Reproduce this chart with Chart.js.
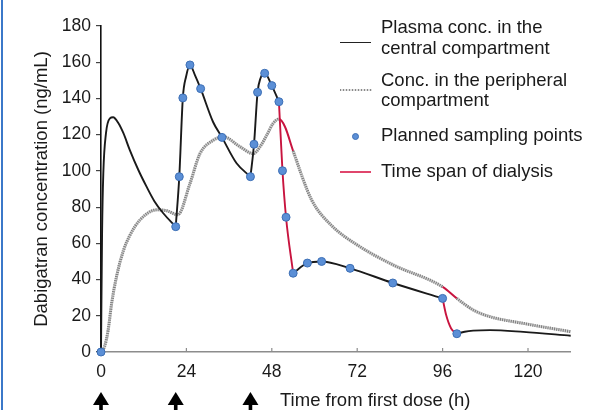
<!DOCTYPE html>
<html><head><meta charset="utf-8">
<script src="https://cdn.jsdelivr.net/npm/chart.js@4.4.1/dist/chart.umd.min.js"></script>
<style>
html,body{margin:0;padding:0;background:#fff;overflow:hidden}
#wrap{position:relative;width:589px;height:410px;font-family:"Liberation Sans",Arial,Helvetica,sans-serif;color:#1a1a1a}
#c{position:absolute;left:0;top:0}
.frame{position:absolute;left:1px;top:0;width:2px;height:410px;background:#3b78c9}
.lg{position:absolute;left:381px;font-size:18.5px;line-height:20.5px;white-space:nowrap}
.sw{position:absolute}
#xt{position:absolute;left:280px;top:390px;font-size:18.5px;line-height:20.5px;white-space:nowrap}
</style></head>
<body>
<div id="wrap">
<canvas id="c" width="589" height="410"></canvas>
<div class="frame"></div>
<div class="sw" style="left:340px;top:41.5px;width:31px;height:1.6px;background:#222"></div>
<div class="lg" style="top:17px">Plasma conc. in the<br>central compartment</div>
<div class="sw" style="left:340px;top:89px;width:32px;height:2px;background:repeating-linear-gradient(90deg,#8a8a8a 0 1.5px,#e0e0e0 1.5px 3px)"></div>
<div class="lg" style="top:69.5px">Conc. in the peripheral<br>compartment</div>
<div class="sw" style="left:352.2px;top:132.8px;width:5px;height:5px;border-radius:50%;background:#5b8fd6;border:1px solid #3d6fb5"></div>
<div class="lg" style="top:125px">Planned sampling points</div>
<div class="sw" style="left:340px;top:171px;width:31px;height:2px;background:#e0466c"></div>
<div class="lg" style="top:160.5px">Time span of dialysis</div>
<div id="xt">Time from first dose (h)</div>
</div>
<script>
// ---- data ----
const doseTimes = [0, 21, 42];
const dialysisStart = [50, 96];
const dialysisEnd = [54, 100];
const xTickValues = [0, 24, 48, 72, 96, 120];
const yTickValues = [0, 20, 40, 60, 80, 100, 120, 140, 160, 180];

const centralTime = [0,0.3,0.65,1.4,2.5,3.4,4.9,6.3,8.1,10.5,12.8,15,17.5,21,
  22,23,23.9,25,26.4,28,31.5,34,38.1,42,
  43,44,44.8,46,48,50,
  51,52,54,
  58,62,70,82,96,
  97,98.4,100,
  102.2,104.6,109.3,118.7,132];
const centralConc = [0,65.6,98.7,120.8,129,129.6,126.3,120.8,111.5,100.5,91.3,83.3,76.6,69.2,
  96.8,140.3,152,158.5,152.9,145.4,127,118.5,104.2,96.8,
  114.7,143.4,151,153.9,147.1,138.2,
  100.1,74.4,43.5,
  49.1,50,46.2,38.1,29.6,
  20.4,13,10.1,
  11.2,11.8,12.1,11.1,9.0];
const centralKinks = [21, 42, 50, 54, 96, 100];

const peripheralTime = [0,1,2,3,4.4,6.3,8,11,15.7,18.5,21.6,25,27.8,31.6,34.4,39,42.8,44.7,46.6,48.4,
  50,51.7,54,59.2,64.7,72.8,82.2,96,100,104.6,109.3,118.7,132];
const peripheralConc = [0,3,12,27,42,56,64,73,78.5,78,75.8,93,109.5,117,118.9,113.4,109.5,113.4,119.8,126.3,
  128.6,124.4,111,83.9,70,58.1,48,36,29.6,23.2,19.5,15.8,11.2];

const sampleTime = [0,21,22,23,25,28,34,42,43,44,46,48,50,51,52,54,58,62,70,82,96,100];
const sampleConc = [0,69.2,96.8,140.3,158.5,145.4,118.5,96.8,114.7,143.4,153.9,147.1,138.2,100.1,74.4,43.5,49.1,50,46.2,38.1,29.6,10.1];

// ---- build ----
const RED = '#c8143f';
const toPts = (ts, cs) => ts.map((t, i) => ({x: t, y: cs[i]}));
function inDialysis(a, b) {
  return dialysisStart.some((s, i) => a >= s - 1e-6 && b <= dialysisEnd[i] + 1e-6);
}
function splitAt(ts, cs, cuts) {
  const segs = []; let cur = [];
  ts.forEach((t, i) => {
    cur.push({x: t, y: cs[i]});
    if (cuts.includes(t)) { segs.push(cur); cur = [{x: t, y: cs[i]}]; }
  });
  if (cur.length > 1) segs.push(cur);
  return segs;
}
const centralSegs = splitAt(centralTime, centralConc, centralKinks).map(seg => ({
  data: seg,
  borderColor: inDialysis(seg[0].x, seg[seg.length - 1].x) ? RED : '#1a1a1a',
  borderWidth: 1.9,
  pointRadius: 0,
  cubicInterpolationMode: 'monotone',
  clip: false
}));
const periphPts = toPts(peripheralTime, peripheralConc);
const segRed = ctx => inDialysis(ctx.p0.parsed.x, ctx.p1.parsed.x);

const datasets = [
  { data: toPts(sampleTime, sampleConc), showLine: false, pointRadius: 4,
    pointBackgroundColor: '#5b8fd6', pointBorderColor: '#3d6fb5', pointBorderWidth: 1, clip: false },
  ...centralSegs,
  { data: periphPts, borderColor: '#7c7c7c', borderWidth: 3, borderDash: [1, 1.2], pointRadius: 0,
    cubicInterpolationMode: 'monotone', clip: false,
    segment: { borderColor: c => segRed(c) ? 'rgba(0,0,0,0)' : undefined } },
  { data: periphPts, borderColor: '#d2d2d2', borderWidth: 3, pointRadius: 0,
    cubicInterpolationMode: 'monotone', clip: false,
    segment: { borderColor: c => segRed(c) ? RED : undefined, borderWidth: c => segRed(c) ? 2 : undefined } }
];

const overlay = {
  id: 'overlay',
  afterDraw(chart) {
    const {ctx, scales: {x, y}} = chart;
    ctx.save();
    ctx.strokeStyle = '#8c8c8c'; ctx.lineWidth = 1.2;
    x.ticks.forEach(t => {
      if (t.value === 0) return;
      const px = x.getPixelForValue(t.value);
      ctx.beginPath(); ctx.moveTo(px, y.bottom); ctx.lineTo(px, y.bottom - 4); ctx.stroke();
    });
    ctx.fillStyle = '#000';
    doseTimes.forEach(t => {
      const px = x.getPixelForValue(t);
      ctx.beginPath(); ctx.moveTo(px, 392); ctx.lineTo(px + 8, 405); ctx.lineTo(px - 8, 405); ctx.closePath(); ctx.fill();
      ctx.fillRect(px - 1.8, 403, 3.6, 7);
    });
    ctx.restore();
  }
};

Chart.defaults.font.family = '"Liberation Sans", Arial, Helvetica, sans-serif';
Chart.defaults.color = '#1a1a1a';

new Chart(document.getElementById('c'), {
  type: 'line',
  data: { datasets },
  options: {
    responsive: false, animation: false, events: [],
    layout: { padding: { left: 0, right: 18.3, top: 26, bottom: 0 } },
    plugins: { legend: { display: false }, tooltip: { enabled: false } },
    scales: {
      x: {
        type: 'linear', min: 0, max: 132,
        afterBuildTicks: s => { s.ticks = xTickValues.map(v => ({value: v})); },
        afterFit: s => { s.height = 58; },
        grid: { display: true, drawOnChartArea: false, drawTicks: false },
        border: { color: '#8c8c8c', width: 1.5 },
        ticks: { padding: 10, font: { size: 17.5 }, color: '#1a1a1a', maxRotation: 0 }
      },
      y: {
        min: 0, max: 180,
        afterBuildTicks: s => { s.ticks = yTickValues.map(v => ({value: v})); },
        afterFit: s => { s.width = 101; },
        grid: { display: true, drawOnChartArea: false, drawTicks: true, tickLength: 5, color: '#444', lineWidth: 1.2 },
        border: { color: '#111', width: 1.6 },
        ticks: { padding: 5, font: { size: 17.5 }, color: '#1a1a1a' },
        title: { display: true, text: 'Dabigatran concentration (ng/mL)', font: { size: 18.5 }, color: '#1a1a1a', padding: { top: 31, bottom: 0 } }
      }
    }
  },
  plugins: [overlay]
});
</script>
</body></html>
